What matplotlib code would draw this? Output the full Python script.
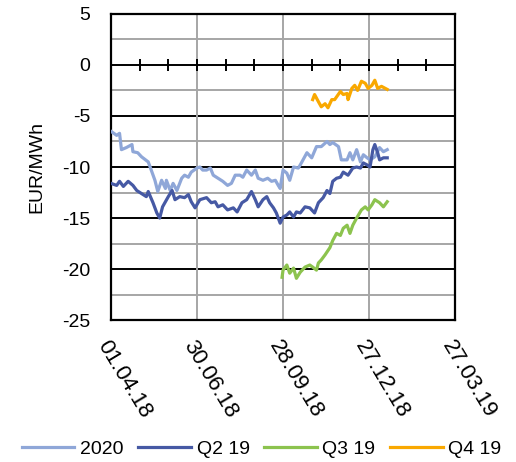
import datetime
import matplotlib
matplotlib.use("Agg")
import matplotlib.pyplot as plt
import matplotlib.dates as mdates

plt.rcParams['font.family'] = ['Liberation Sans', 'DejaVu Sans']
plt.rcParams['axes.unicode_minus'] = False

# Dados (dias desde 01.04.18 e valores em EUR/MWh)
inicio = datetime.date(2018, 4, 1)

dias_2020 = [0, 6, 9, 11, 16, 22, 23, 28, 32, 39, 41, 46, 49, 53, 57, 58, 62, 65, 69, 74,
             77, 81, 84, 90, 93, 96, 100, 104, 107, 112, 117, 122, 126, 130, 135, 138, 142, 147, 151, 154,
             159, 164, 168, 172, 175, 177, 180, 184, 187, 191, 196, 198, 205, 210, 215, 220, 226, 229, 232, 238,
             241, 247, 250, 253, 257, 261, 264, 268, 271, 276, 281, 285, 289]
valores_2020 = [-6.5, -6.9, -6.7, -8.3, -8.1, -7.8, -8.5, -8.6, -9.0, -9.5, -10.0, -11.3, -12.4, -11.3, -12.1, -11.3, -12.3, -11.6, -12.3, -11.1,
                -10.8, -11.0, -10.5, -10.1, -10.0, -10.3, -10.3, -10.1, -10.8, -11.1, -11.4, -11.8, -11.6, -10.8, -10.8, -11.0, -10.3, -10.8, -10.3, -11.1,
                -11.3, -11.1, -11.4, -11.3, -11.8, -12.1, -10.3, -10.6, -11.3, -10.0, -10.1, -9.8, -8.6, -9.1, -8.0, -8.0, -7.5, -7.8, -7.6, -8.0,
                -9.3, -9.3, -8.6, -9.3, -8.3, -9.5, -8.8, -9.1, -9.3, -9.0, -8.1, -8.5, -8.3]

dias_q2 = [0, 6, 9, 13, 18, 23, 27, 32, 37, 39, 44, 48, 51, 54, 60, 64, 67, 72, 77, 81,
           84, 88, 93, 100, 105, 109, 112, 117, 122, 128, 132, 137, 142, 147, 151, 154, 159, 163, 166, 170,
           173, 177, 180, 184, 187, 191, 194, 198, 203, 208, 213, 217, 222, 226, 229, 232, 236, 240, 243, 248,
           253, 257, 261, 264, 268, 271, 274, 276, 279, 281, 285, 289]
valores_q2 = [-11.6, -11.8, -11.4, -11.9, -11.4, -11.8, -12.3, -12.6, -12.9, -12.4, -13.5, -14.5, -15.0, -13.9, -12.9, -12.3, -13.2, -12.9, -13.0, -12.7,
              -13.4, -14.0, -13.2, -13.0, -13.5, -13.4, -13.9, -13.7, -14.2, -14.0, -14.4, -13.5, -13.2, -12.4, -13.2, -13.9, -13.2, -12.9, -13.5, -14.0,
              -14.5, -15.5, -14.9, -14.7, -14.4, -14.9, -14.4, -14.5, -13.9, -14.0, -14.5, -13.5, -13.0, -12.3, -12.6, -11.4, -11.1, -11.0, -10.5, -10.8,
              -10.1, -10.0, -10.1, -9.6, -9.8, -10.0, -8.3, -7.8, -8.6, -9.3, -9.1, -9.1]

dias_q3 = [179, 180, 184, 187, 191, 194, 198, 203, 208, 211, 215, 217, 220, 224, 229, 232, 236, 240, 243, 247,
           250, 253, 257, 262, 266, 269, 273, 276, 281, 285, 289]
valores_q3 = [-20.8, -20.1, -19.6, -20.4, -19.9, -20.9, -20.3, -19.8, -19.6, -19.8, -20.1, -19.4, -19.1, -18.6, -17.9, -17.2, -16.5, -16.7, -16.0, -15.7,
              -16.5, -15.7, -15.0, -14.2, -13.9, -14.2, -13.7, -13.2, -13.5, -13.9, -13.4]

dias_q4 = [211, 213, 217, 220, 224, 227, 231, 234, 240, 243, 247, 248, 252, 255, 258, 262, 266, 269, 273, 276,
           279, 283, 289]
valores_q4 = [-3.4, -2.9, -3.6, -4.1, -3.8, -4.2, -3.4, -3.4, -2.6, -2.9, -2.8, -3.4, -2.3, -2.0, -2.5, -1.6, -1.8, -2.3, -2.0, -1.5,
              -2.3, -2.1, -2.4]

series = [
    ("2020", dias_2020, valores_2020, "#8FA7D8"),
    ("Q2 19", dias_q2, valores_q2, "#4659A4"),
    ("Q3 19", dias_q3, valores_q3, "#8CC34E"),
    ("Q4 19", dias_q4, valores_q4, "#F9A800"),
]


def para_datas(dias):
    return [inicio + datetime.timedelta(days=d) for d in dias]


fig = plt.figure(figsize=(5.16, 4.62), dpi=100)
ax = fig.add_axes([0.215, 0.307, 0.667, 0.663])

# grade: linhas principais pretas, secundarias cinzas
for y in [2.5, -2.5, -7.5, -12.5, -17.5, -22.5]:
    ax.axhline(y, color="#A6A6A6", lw=1.4, zorder=1)
for y in [-5, -10, -15, -20]:
    ax.axhline(y, color="black", lw=1.4, zorder=1)

datas_principais = [inicio + datetime.timedelta(days=90 * i) for i in range(5)]
for d in datas_principais[1:-1]:
    ax.axvline(d, color="#A6A6A6", lw=1.4, zorder=1)

for nome, dias, valores, cor in series:
    ax.plot(para_datas(dias), valores, color=cor, lw=2.3, label=nome, zorder=3)

# eixo horizontal cruzando em zero, com marcas a cada 30 dias
ax.axhline(0, color="black", lw=1.4, zorder=2)
marcas = [inicio + datetime.timedelta(days=30 * i) for i in range(13)]
ax.plot(marcas, [0] * len(marcas), ls="none", marker="|", ms=8, mew=1.4, color="black", zorder=2)

ax.set_xlim(inicio, inicio + datetime.timedelta(days=360))
ax.set_ylim(-25, 5)
ax.set_yticks([5, 0, -5, -10, -15, -20, -25])
ax.set_xticks(datas_principais)
ax.xaxis.set_major_formatter(mdates.DateFormatter("%d.%m.%y"))
ax.tick_params(axis="y", length=0, labelsize=14, pad=15)
ax.tick_params(axis="x", length=0, labelsize=16, pad=12)
for rotulo in ax.get_xticklabels():
    rotulo.set_rotation(-59)
    rotulo.set_ha("left")
    rotulo.set_va("top")
    rotulo.set_rotation_mode("anchor")

for lado in ax.spines.values():
    lado.set_linewidth(1.6)
    lado.set_color("black")

ax.set_ylabel("EUR/MWh", fontsize=14, labelpad=12)

fig.legend(loc="center", bbox_to_anchor=(0.507, 0.028), ncol=4, frameon=False,
           fontsize=14, handlelength=2.7, handletextpad=0.3, columnspacing=0.75)

fig.savefig("out.png", dpi=100)
